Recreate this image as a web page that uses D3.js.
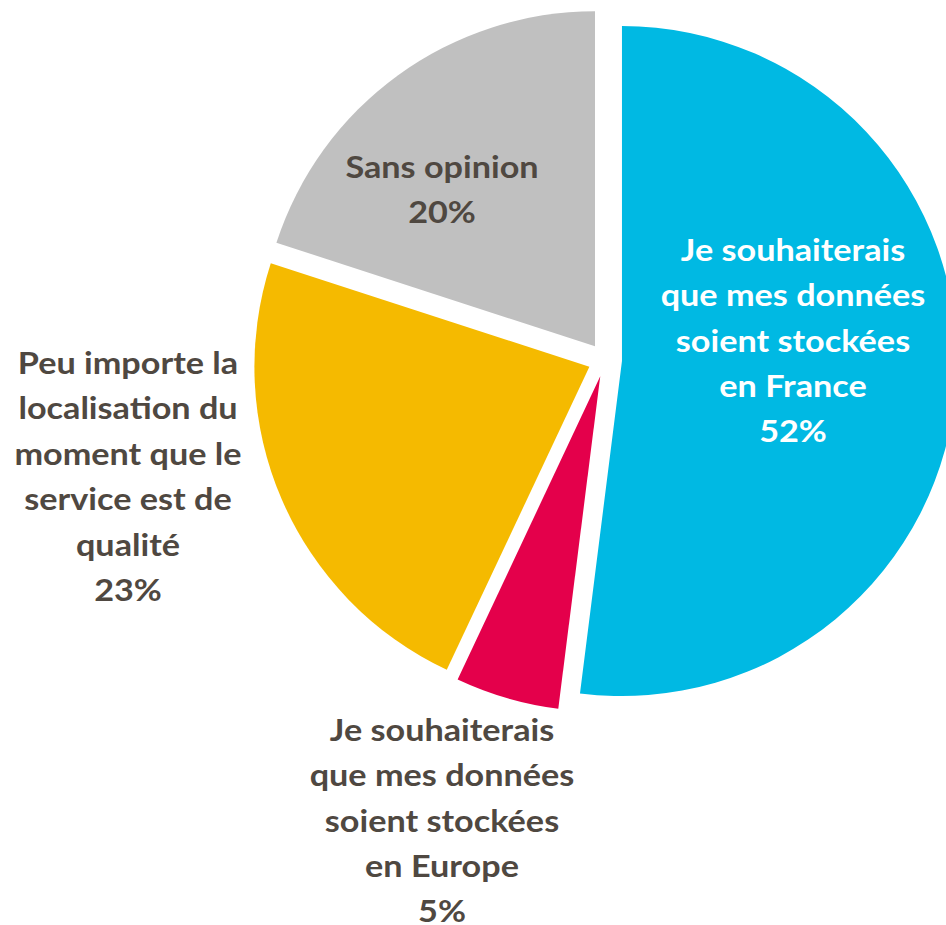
<!DOCTYPE html>
<html>
<head>
<meta charset="utf-8">
<script src="https://cdn.jsdelivr.net/npm/d3@7"></script>
<style>
  body { margin: 0; background: #fff; }
  svg { display: block; }
  .label { font-family: Lato, "Open Sans", sans-serif; font-weight: 700; font-size: 30px; }
</style>
</head>
<body>
<div id="chart"></div>
<script>
// data
const categories = [
  'Je souhaiterais que mes données soient stockées en France',
  'Je souhaiterais que mes données soient stockées en Europe',
  'Peu importe la localisation du moment que le service est de qualité',
  'Sans opinion'
];
const values = [52, 5, 23, 20];
const labelLines = [
  ['Je souhaiterais', 'que mes données', 'soient stockées', 'en France'],
  ['Je souhaiterais', 'que mes données', 'soient stockées', 'en Europe'],
  ['Peu importe la', 'localisation du', 'moment que le', 'service est de', 'qualité'],
  ['Sans opinion']
];
const colors = ['#00B9E3', '#E4004B', '#F5BA00', '#C0C0C0'];

// layout
const width = 946, height = 925;
const cx = 605, cy = 360, radius = 335, explode = 17;
const lineHeight = 45.5;
const stretch = 1.14; // the original face runs wider than Lato
// label block centers, relative to the pie center
const labelOffsets = [[188, -19], [-163, 461], [-477, 117], [-163, -170]];
const labelFill = ['#ffffff', '#4F4841', '#4F4841', '#4F4841'];

const svg = d3.select('#chart').append('svg')
    .attr('width', width)
    .attr('height', height);

const g = svg.append('g')
    .attr('transform', 'translate(' + cx + ',' + cy + ')');

const data = categories.map((c, i) => ({name: c, value: values[i], lines: labelLines[i], i: i}));

const pie = d3.pie()
    .value(d => d.value)
    .sort(null);

const arc = d3.arc()
    .innerRadius(0)
    .outerRadius(radius);

const arcs = pie(data);

g.selectAll('path.slice')
    .data(arcs)
    .join('path')
    .attr('class', 'slice')
    .attr('fill', d => colors[d.data.i])
    .attr('transform', d => {
        const mid = (d.startAngle + d.endAngle) / 2;
        return 'translate(' + (Math.sin(mid) * explode) + ',' + (-Math.cos(mid) * explode) + ')';
    })
    .attr('d', arc);

// labels
const labels = g.selectAll('text.label')
    .data(arcs)
    .join('text')
    .attr('class', 'label')
    .attr('text-anchor', 'middle')
    .attr('fill', d => labelFill[d.data.i])
    .attr('transform', d => 'translate(' + labelOffsets[d.data.i][0] + ',' + labelOffsets[d.data.i][1] + ') scale(' + stretch + ',1)');

labels.each(function(d) {
    const lines = d.data.lines.concat([d.data.value + '%']);
    const top = -(lines.length - 1) * lineHeight / 2;
    d3.select(this).selectAll('tspan')
        .data(lines)
        .join('tspan')
        .attr('x', 0)
        .attr('y', (l, k) => top + k * lineHeight)
        .attr('dy', '0.35em')
        .text(l => l);
});
</script>
</body>
</html>
